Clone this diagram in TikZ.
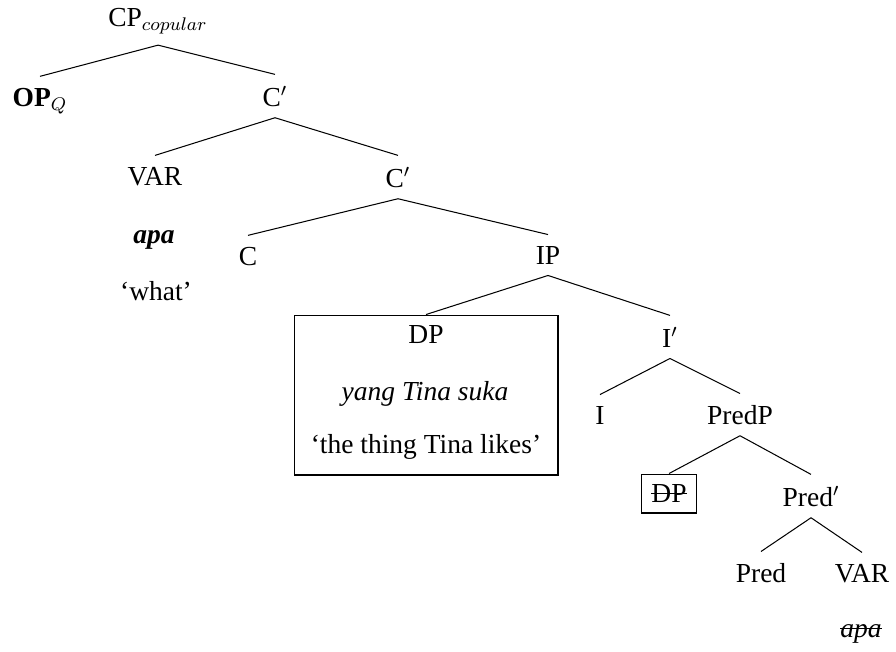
\documentclass[tikz,border=0pt]{standalone}
\usepackage{fontspec}
\setmainfont{Liberation Serif}
% horizontal stroke through a word
\newsavebox\strikebox
\newcommand\strikeword[1]{\sbox\strikebox{#1}\rlap{\rule[0.3em]{\wd\strikebox}{0.45pt}}\usebox\strikebox}
\begin{document}
\begin{tikzpicture}[x=0.4364pt,y=-0.4364pt,
  every node/.style={font=\fontsize{12}{14.4}\selectfont},
  lab/.style={anchor=base,inner xsep=2pt,inner ysep=4.8pt},
  gloss/.style={anchor=base,inner sep=0pt},
  branch/.style={line width=0.45pt},
  framed/.style={draw,line width=0.45pt,inner sep=0pt}]
\useasboundingbox (0,0) rectangle (896,651);

% category labels
\node[lab] (cp)    at (158,26)  {CP$_{copular}$};
\node[lab] (op)    at (40,106)  {\textbf{OP}$_Q$};
\node[lab] (cbar1) at (275,106) {C$'$};
\node[lab] (var1)  at (155,185) {VAR};
\node[lab] (cbar2) at (398,187) {C$'$};
\node[lab] (c)     at (248,265) {C};
\node[lab] (ip)    at (548,264) {IP};
\node[lab] (ibar)  at (670,347) {I$'$};
\node[lab] (i)     at (600,424) {I};
\node[lab] (predp) at (740,424) {PredP};
\node[lab] (predbar) at (811,506) {Pred$'$};
\node[lab] (pred)  at (761,582) {Pred};
\node[lab] (var2)  at (862,582) {VAR};

% wh-word and its gloss
\node[gloss] (apa1) at (154,243) {\textbf{\textit{apa}}};
\node[gloss] (what) at (156,300) {`what'};
\node[gloss] (apa2) at (861,637) {\textit{\strikeword{apa}}};

% boxed subject DP
\node[framed,minimum width=115.2pt,minimum height=69.8pt] (dpbox) at (426,395) {};
\node[gloss] (dp)   at (426,343) {DP};
\node[gloss] (yang) at (425,400) {\textit{yang Tina suka}};
\node[gloss] (thing) at (426,453) {`the thing Tina likes'};

% deleted copy of the DP
\node[framed,minimum width=24.4pt,minimum height=17pt] (dpdel) at (669,493.5) {\strikeword{DP}};

% branches
\draw[branch] (cp.south) -- (op.north);
\draw[branch] (cp.south) -- (cbar1.north);
\draw[branch] (cbar1.south) -- (var1.north);
\draw[branch] (cbar1.south) -- (cbar2.north);
\draw[branch] (cbar2.south) -- (c.north);
\draw[branch] (cbar2.south) -- (ip.north);
\draw[branch] (ip.south) -- (dpbox.north);
\draw[branch] (ip.south) -- (ibar.north);
\draw[branch] (ibar.south) -- (i.north);
\draw[branch] (ibar.south) -- (predp.north);
\draw[branch] (predp.south) -- (dpdel.north);
\draw[branch] (predp.south) -- (predbar.north);
\draw[branch] (predbar.south) -- (pred.north);
\draw[branch] (predbar.south) -- (var2.north);
\end{tikzpicture}
\end{document}
